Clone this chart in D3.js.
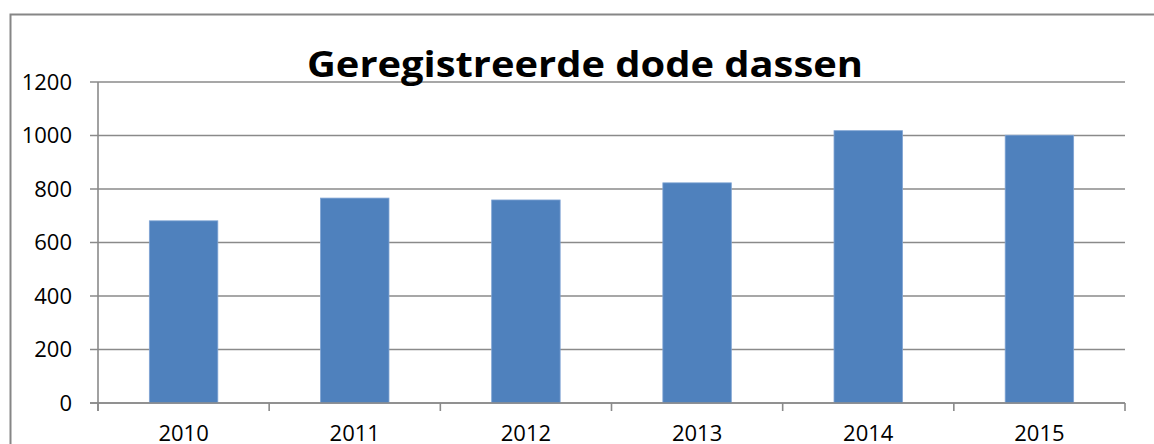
<!DOCTYPE html>
<html>
<head>
<meta charset="utf-8">
<script src="https://cdn.jsdelivr.net/npm/d3@7"></script>
<style>
  html, body { margin: 0; padding: 0; background: #fff; }
  svg { display: block; }
</style>
</head>
<body>
<svg id="chart" width="1154" height="444"></svg>
<script>
const years = ["2010", "2011", "2012", "2013", "2014", "2015"];
const values = [681, 766, 759, 823, 1018, 1001];
const yTicks = [0, 200, 400, 600, 800, 1000, 1200];
const title = "Geregistreerde dode dassen";

const svg = d3.select("#chart");
const plot = { left: 98, right: 1125, top: 82, bottom: 403 };
const gridColor = "#8a8a8a";
const font = "'Open Sans', 'DejaVu Sans', sans-serif";

// outer chart border (extends beyond viewport right and bottom)
svg.append("rect")
  .attr("x", 10.5).attr("y", 14.5)
  .attr("width", 1200).attr("height", 600)
  .attr("fill", "none").attr("stroke", "#868686").attr("stroke-width", 2);

const x = d3.scaleBand().domain(years).range([plot.left, plot.right])
  .paddingInner(0.6).paddingOuter(0.3);
const xb = d3.scaleBand().domain(years).range([plot.left, plot.right]).padding(0);
const y = d3.scaleLinear().domain([0, 1200]).range([plot.bottom, plot.top]);

// gridlines
svg.append("g").selectAll("line").data(yTicks).join("line")
  .attr("x1", plot.left - 8).attr("x2", plot.right)
  .attr("y1", d => y(d)).attr("y2", d => y(d))
  .attr("stroke", gridColor).attr("stroke-width", 1.6);

// y axis line
svg.append("line")
  .attr("x1", plot.left).attr("x2", plot.left)
  .attr("y1", plot.top).attr("y2", plot.bottom + 8)
  .attr("stroke", gridColor).attr("stroke-width", 1.6);

// x tick marks at category boundaries
const bounds = years.map(d => xb(d)).concat([plot.right]);
svg.append("g").selectAll("line").data(bounds).join("line")
  .attr("x1", d => d).attr("x2", d => d)
  .attr("y1", plot.bottom).attr("y2", plot.bottom + 8)
  .attr("stroke", gridColor).attr("stroke-width", 1.6);

// bars
svg.append("g").selectAll("rect").data(years).join("rect")
  .attr("x", d => x(d))
  .attr("y", (d, i) => y(values[i]))
  .attr("width", x.bandwidth())
  .attr("height", (d, i) => y(0) - y(values[i]))
  .attr("fill", "#4F81BD")
  .attr("stroke", "#7fa3d3").attr("stroke-width", 0.8);

// redraw baseline over bars
svg.append("line")
  .attr("x1", plot.left - 8).attr("x2", plot.right)
  .attr("y1", y(0)).attr("y2", y(0))
  .attr("stroke", gridColor).attr("stroke-width", 1.6);

// y labels
svg.append("g").selectAll("text").data(yTicks).join("text")
  .attr("x", 72).attr("y", d => y(d))
  .attr("dy", "0.36em")
  .attr("text-anchor", "end")
  .attr("font-family", font).attr("font-size", 22)
  .attr("fill", "#000")
  .text(d => d);

// x labels
svg.append("g").selectAll("text").data(years).join("text")
  .attr("x", d => xb(d) + xb.bandwidth() / 2)
  .attr("y", 441)
  .attr("text-anchor", "middle")
  .attr("font-family", font).attr("font-size", 22)
  .attr("fill", "#000")
  .text(d => d);

// title
svg.append("text")
  .attr("x", 585).attr("y", 77)
  .attr("text-anchor", "middle")
  .attr("font-family", font).attr("font-weight", "bold").attr("font-size", 36)
  .attr("textLength", 556).attr("lengthAdjust", "spacingAndGlyphs")
  .attr("fill", "#000")
  .text(title);
</script>
</body>
</html>
